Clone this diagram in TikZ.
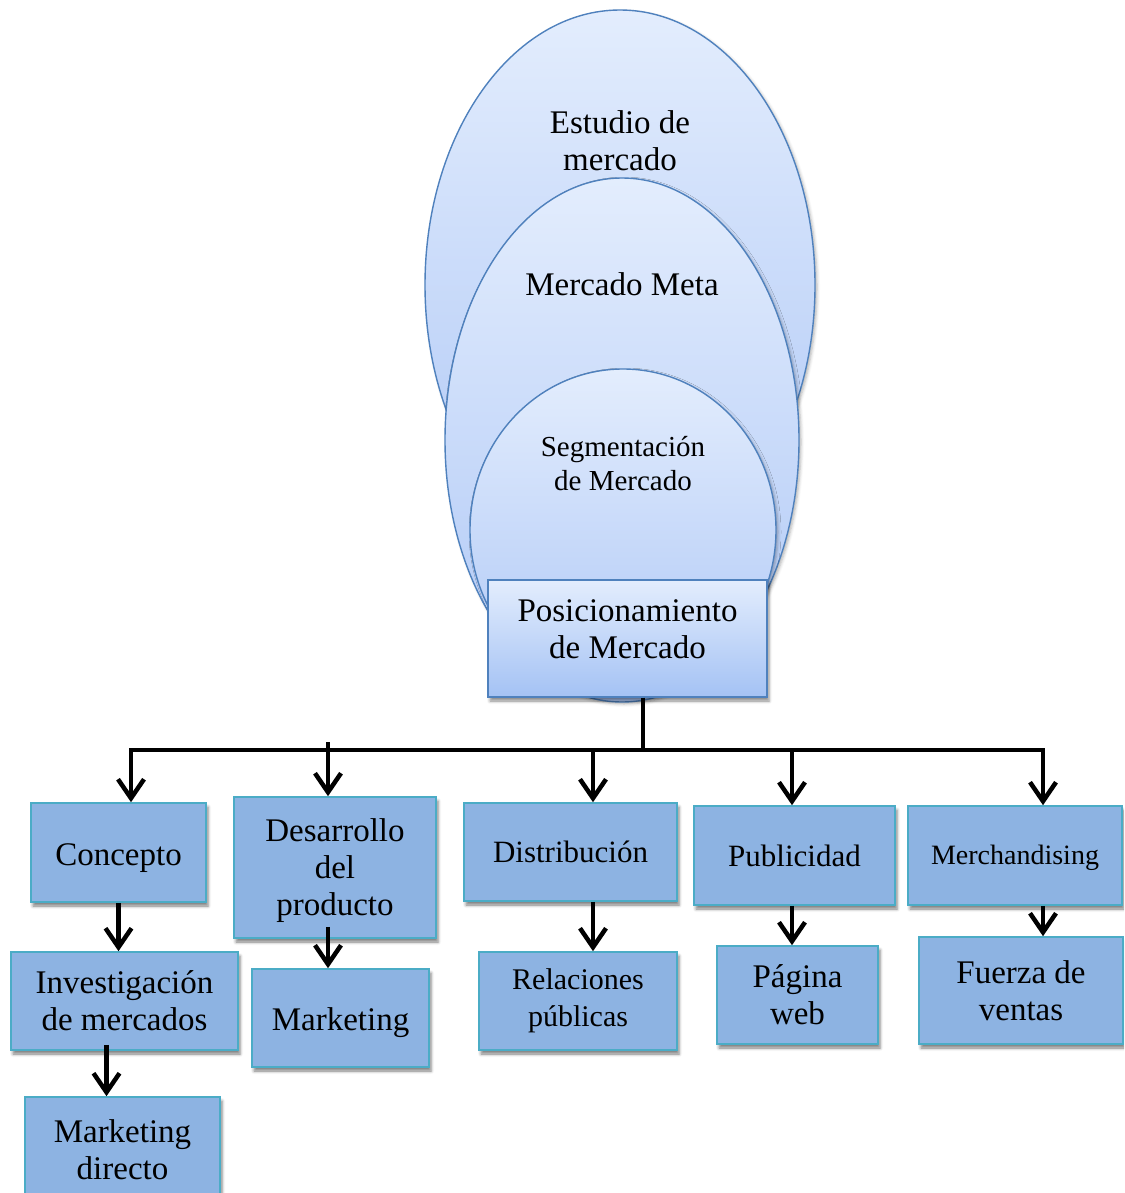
\documentclass[tikz,border=0pt]{standalone}
\usepackage{fontspec}
\setmainfont{Liberation Serif}
\usetikzlibrary{shapes.geometric, arrows.meta, shadows.blur}

\definecolor{ovalline}{HTML}{4F81BD}
\definecolor{ovaltop}{HTML}{E3EDFD}
\definecolor{ovalbottom}{HTML}{AFC8F6}
\definecolor{posicbottom}{HTML}{A4C2F4}
\definecolor{boxfill}{HTML}{8DB3E2}
\definecolor{boxline}{HTML}{4BACC6}

\begin{document}
\begin{tikzpicture}[x=1pt, y=-1pt,
    oval/.style={ellipse, draw=ovalline, line width=1.4pt, top color=ovaltop, bottom color=ovalbottom, inner sep=0pt,
        blur shadow={shadow xshift=2pt, shadow yshift=-2pt, shadow blur radius=3pt, shadow opacity=30}},
    ovaltext/.style={align=center, font=\fontsize{33}{37}\selectfont},
    leaf/.style={draw=boxline, fill=boxfill, line width=1.6pt, align=center, inner sep=0pt, font=\fontsize{33}{37}\selectfont,
        blur shadow={shadow xshift=2pt, shadow yshift=-4pt, shadow blur radius=3pt, shadow opacity=50}},
    bar/.style={line width=4.5pt},
    arr/.style={line width=4.5pt, -{Straight Barb[length=19pt, width=26pt]}}]
    \clip (0,0) rectangle (1124,1193);

    \node[oval, minimum width=390pt, minimum height=550pt] (estudio) at (620,285) {};
    \node[ovaltext] (estudiotxt) at (620,141) {Estudio de\\mercado};
    \node[oval, minimum width=354pt, minimum height=524pt] (meta) at (622,440) {};
    \node[ovaltext] (metatxt) at (622,284) {Mercado Meta};
    \node[oval, minimum width=306pt, minimum height=322pt] (segment) at (623,530) {};
    \node[ovaltext, font=\fontsize{29}{34}\selectfont] (segmenttxt) at (623,464) {Segmentación\\de Mercado};
    \node[draw=ovalline, line width=1.4pt, top color=ovaltop, bottom color=posicbottom, align=center,
        minimum width=279pt, minimum height=117pt, inner sep=0pt, text depth=18pt, font=\fontsize{33}{37}\selectfont,
        blur shadow={shadow xshift=2pt, shadow yshift=-4pt, shadow blur radius=3pt, shadow opacity=45}]
        (posic) at (627.5,638.5) {Posicionamiento\\de Mercado};

    \node[leaf, minimum width=175pt, minimum height=99pt, text height=25pt, text depth=0pt] (concepto) at (118.5,852.5) {Concepto};
    \node[leaf, minimum width=202pt, minimum height=141pt, text depth=0pt] (desarrollo) at (335,867.5) {Desarrollo\\del\\producto};
    \node[leaf, minimum width=213pt, minimum height=98pt, font=\fontsize{31}{36}\selectfont] (distrib) at (570.5,852) {Distribución};
    \node[leaf, minimum width=201pt, minimum height=99pt, font=\fontsize{31}{36}\selectfont] (publi) at (794.5,855.5) {Publicidad};
    \node[leaf, minimum width=214pt, minimum height=99pt, font=\fontsize{28}{34}\selectfont, text height=24pt] (merch) at (1015,855.5) {Merchandising};

    \node[leaf, minimum width=227pt, minimum height=98pt] (investig) at (124.5,1001) {Investigación\\de mercados};
    \node[leaf, minimum width=177pt, minimum height=98pt, text height=25pt, text depth=0pt] (marketing) at (340.5,1018) {Marketing};
    \node[leaf, minimum width=198pt, minimum height=98pt, font=\fontsize{30}{37}\selectfont] (relaciones) at (578,1001) {Relaciones\\públicas};
    \node[leaf, minimum width=161pt, minimum height=98pt] (pagina) at (797.5,995) {Página\\web};
    \node[leaf, minimum width=204pt, minimum height=107pt] (fuerza) at (1021,990.5) {Fuerza de\\ventas};
    \node[leaf, minimum width=195pt, minimum height=106pt] (directo) at (122.5,1150) {Marketing\\directo};

    \coordinate (bus) at (643,750);
    \draw[bar] (posic.south -| bus) -- (bus);
    \draw[arr] (bus) -| ([xshift=12.5pt]concepto.north);
    \draw[arr] (bus) -| ([xshift=28pt]merch.north);
    \draw[arr] ([xshift=-7pt, yshift=8pt]desarrollo.north |- bus) -- ([xshift=-7pt]desarrollo.north);
    \draw[arr] ([xshift=22.5pt]distrib.north |- bus) -- ([xshift=22.5pt]distrib.north);
    \draw[arr] ([xshift=-2.5pt]publi.north |- bus) -- ([xshift=-2.5pt]publi.north);

    \draw[arr] (concepto.south -| investig.north) ++(-6pt,0) -- ([xshift=-6pt]investig.north);
    \draw[arr] ([xshift=-7pt, yshift=12pt]desarrollo.south) -- ([xshift=-7pt]desarrollo.south |- marketing.north);
    \draw[arr] ([xshift=22.5pt]distrib.south) -- ([xshift=22.5pt]distrib.south |- relaciones.north);
    \draw[arr] ([xshift=-2.5pt]publi.south) -- ([xshift=-2.5pt]publi.south |- pagina.north);
    \draw[arr] ([xshift=28pt]merch.south) -- ([xshift=28pt]merch.south |- fuerza.north);
    \draw[arr] ([xshift=-16pt, yshift=6pt]investig.south -| directo.north) -- ([xshift=-16pt]directo.north);
\end{tikzpicture}
\end{document}
